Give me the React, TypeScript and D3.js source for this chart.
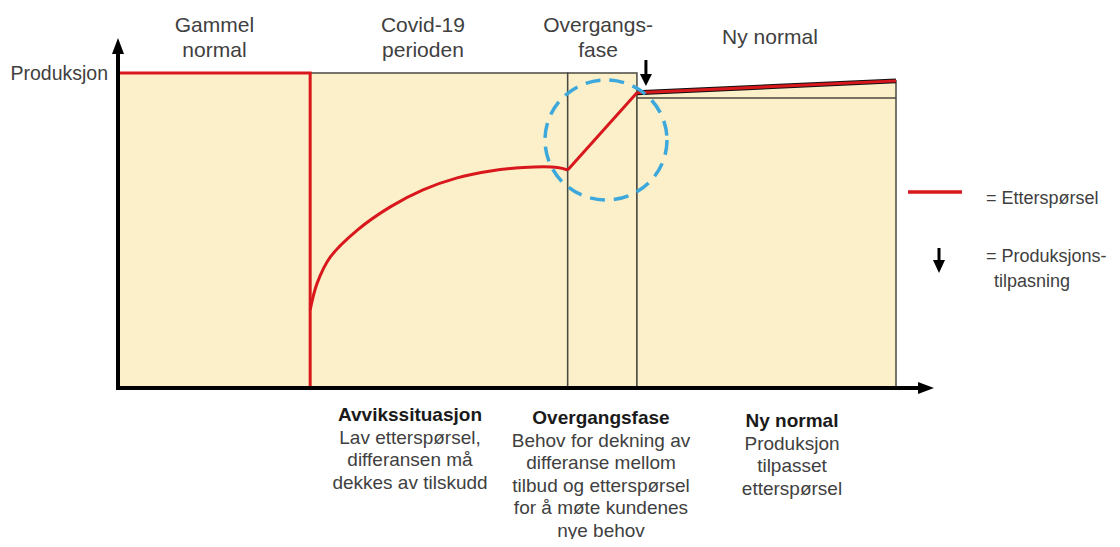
import React from 'react'
import * as d3 from 'd3'

// faser (tid 0-100) og nivåer (produksjon 0-100)
const phaseBounds = [0, 24.7, 57.8, 66.7, 100]
const topLabels = [['Gammel', 'normal'], ['Covid-19', 'perioden'], ['Overgangs-', 'fase'], ['Ny normal']]
const topLabelT = [12.4, 39.2, 61.7, 83.8]
const produksjonLevel = 100

// etterspørsel i covid-perioden
const covidT = [24.7, 25.6, 27.3, 30.8, 35.0, 39.2, 43.6, 47.9, 52.1, 56.5, 57.8]
const covidV = [24.8, 33.3, 41.6, 50.2, 57.5, 62.9, 66.7, 68.9, 70.0, 70.0, 69.2]

// overgang og ny normal
const overgangT = [57.8, 66.7]
const overgangV = [69.2, 93.7]
const nyNormalT = [66.7, 100]
const nyNormalV = [93.7, 97.5]
const tilpassetLevel = 92.1

const bottomNotes = [
  { title: 'Avvikssituasjon', lines: ['Lav etterspørsel,', 'differansen må', 'dekkes av tilskudd'] },
  { title: 'Overgangsfase', lines: ['Behov for dekning av', 'differanse mellom', 'tilbud og etterspørsel', 'for å møte kundenes', 'nye behov'] },
  { title: 'Ny normal', lines: ['Produksjon', 'tilpasset', 'etterspørsel'] },
]

const W = 1120
const H = 547
const FILL = '#fcf0ca'
const RED = '#d8181c'
const GRID = '#4a4a42'
const TXT = '#404040'
const FONT = '"Liberation Sans", Arial, sans-serif'

export default function App() {
  const x = d3.scaleLinear().domain([0, 100]).range([118, 896])
  const y = d3.scaleLinear().domain([0, 100]).range([388, 73])
  const line = d3.line<[number, number]>().x(d => x(d[0])).y(d => y(d[1]))
  const curve = d3.line<[number, number]>().x(d => x(d[0])).y(d => y(d[1])).curve(d3.curveCatmullRom.alpha(0.5))

  const [b0, b1, b2, b3, b4] = phaseBounds
  const covidPts = covidT.map((t, i) => [t, covidV[i]] as [number, number])
  const overgangPts = overgangT.map((t, i) => [t, overgangV[i]] as [number, number])
  const nyPts = nyNormalT.map((t, i) => [t, nyNormalV[i]] as [number, number])

  const nyArea = d3.area<[number, number]>().x(d => x(d[0])).y0(y(0)).y1(d => y(d[1]))

  const x0 = x(0), yb = y(0)
  const arrowX = x(b3) + 9

  return (
    <div style={{ margin: -8 }}>
      <svg width={W} height={H} style={{ display: 'block', background: '#fff' }} fontFamily={FONT}>
        {/* felt */}
        <rect x={x(b0)} y={y(produksjonLevel)} width={x(b1) - x(b0)} height={yb - y(produksjonLevel)} fill={FILL} />
        <rect x={x(b1)} y={y(produksjonLevel)} width={x(b2) - x(b1)} height={yb - y(produksjonLevel)} fill={FILL} stroke={GRID} strokeWidth={1.5} />
        <rect x={x(b2)} y={y(produksjonLevel)} width={x(b3) - x(b2)} height={yb - y(produksjonLevel)} fill={FILL} stroke={GRID} strokeWidth={1.5} />
        <path d={nyArea(nyPts) || ''} fill={FILL} stroke={GRID} strokeWidth={1.5} />
        <line x1={x(b3)} x2={x(b4)} y1={y(tilpassetLevel)} y2={y(tilpassetLevel)} stroke={GRID} strokeWidth={1.5} />
        <path d={line(nyPts) || ''} fill="none" stroke="#111" strokeWidth={5} />

        {/* etterspørsel */}
        <path d={line([[b0, produksjonLevel], [b1, produksjonLevel], [b1, 0]]) || ''} fill="none" stroke={RED} strokeWidth={3} />
        <path d={curve(covidPts) || ''} fill="none" stroke={RED} strokeWidth={3} />
        <path d={line(overgangPts) || ''} fill="none" stroke={RED} strokeWidth={3} />
        <path d={line(nyPts) || ''} fill="none" stroke={RED} strokeWidth={3} />

        {/* sirkel */}
        <ellipse cx={606} cy={140} rx={61} ry={60} fill="none" stroke="#3ca8dc" strokeWidth={3.5} strokeDasharray="15 9" />

        {/* akser */}
        <line x1={x0} x2={x0} y1={50} y2={yb + 2} stroke="#000" strokeWidth={4} />
        <path d={`M${x0 - 6},${54} L${x0},${38} L${x0 + 6},${54} Z`} fill="#000" />
        <line x1={x0 - 2} x2={920} y1={yb} y2={yb} stroke="#000" strokeWidth={4} />
        <path d={`M${918},${yb - 6} L${934},${yb} L${918},${yb + 6} Z`} fill="#000" />

        {/* produksjonstilpasning */}
        <line x1={arrowX} x2={arrowX} y1={60} y2={76} stroke="#000" strokeWidth={3} />
        <path d={`M${arrowX - 6},${74} L${arrowX},${86} L${arrowX + 6},${74} Z`} fill="#000" />

        <text x={108} y={80} fontSize={19.5} fill={TXT} textAnchor="end">Produksjon</text>

        {topLabels.map((ls, i) => (
          <text key={i} x={x(topLabelT[i])} y={ls.length === 1 ? 44 : 32} fontSize={21} fill={TXT} textAnchor="middle">
            {ls.map((l, j) => <tspan key={j} x={x(topLabelT[i])} dy={j === 0 ? 0 : 25}>{l}</tspan>)}
          </text>
        ))}

        {bottomNotes.map((n, i) => {
          const cx = [410, 601, 792][i]
          const ty = [421, 424, 427][i]
          return (
            <text key={i} x={cx} y={ty} fontSize={19} fill={TXT} textAnchor="middle">
              <tspan x={cx} fontWeight="bold" fill="#1a1a1a">{n.title}</tspan>
              {n.lines.map((l, j) => <tspan key={j} x={cx} dy={22.6}>{l}</tspan>)}
            </text>
          )
        })}

        {/* legende */}
        <line x1={908} x2={962} y1={192} y2={192} stroke={RED} strokeWidth={3.5} />
        <text x={986} y={204} fontSize={18} fill={TXT}>= Etterspørsel</text>
        <line x1={939} x2={939} y1={248} y2={262} stroke="#000" strokeWidth={3} />
        <path d={`M${933},${260} L${939},${273} L${945},${260} Z`} fill="#000" />
        <text x={986} y={262} fontSize={18} fill={TXT}>= Produksjons-</text>
        <text x={994} y={287} fontSize={18} fill={TXT}>tilpasning</text>
      </svg>
    </div>
  )
}
